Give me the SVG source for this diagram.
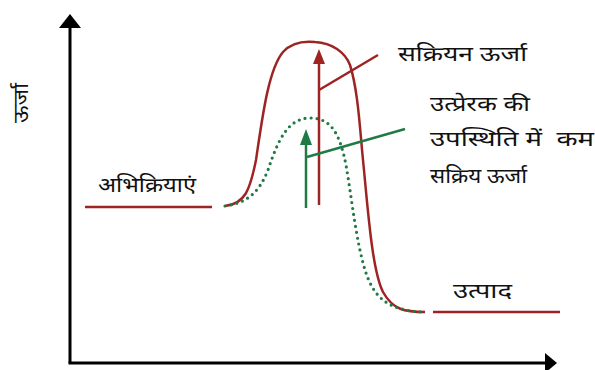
<svg xmlns="http://www.w3.org/2000/svg" width="595" height="370" viewBox="0 0 595 370">
<style>
text{font-family:"Noto Sans Devanagari","Noto Sans","Liberation Sans",sans-serif;font-size:20px;fill:#111}
.red{stroke:#9e2424;fill:none;stroke-width:2.5}
.grn{stroke:#1f7a45;fill:none;stroke-width:2.5}
.ax{stroke:#000;stroke-width:3;fill:none}
</style>
<g id="axes">
<path class="ax" d="M70,363 L70,28"/>
<path d="M59,28 L70,14 L81,28Z" fill="#000"/>
<path class="ax" d="M68.5,363 L545,363"/>
<path d="M545,353 L557,363 L545,373Z" fill="#000"/>
<text x="0" y="0" transform="translate(28,103) rotate(-90)" text-anchor="middle" textLength="40" lengthAdjust="spacingAndGlyphs">ऊर्जा</text>
</g>
<g id="reactants">
<path class="red" d="M85,207 L212,207"/>
<text x="98" y="192" textLength="98" lengthAdjust="spacingAndGlyphs">अभिक्रियाएं</text>
</g>
<g id="products">
<path class="red" d="M433,312 L560,312"/>
<text x="453" y="298" textLength="59" lengthAdjust="spacingAndGlyphs">उत्पाद</text>
</g>
<g id="curve-uncatalysed">
<path class="red" d="M225,206 C245,204 250,190 256,160 C262,120 268,70 283,52 C292,42 305,41 315,42 C332,43 345,52 350,65 C358,90 360,130 363,160 C368,210 372,270 383,292 C393,310 405,312 425,312"/>
</g>
<g id="curve-catalysed">
<path d="M225,206 C245,203 258,195 268,170 C278,140 288,118 310,118 C332,118 340,135 346,165 C352,200 356,240 365,270 C373,295 385,310 422,312" fill="none" stroke="#1f7a45" stroke-width="3.2" stroke-linecap="round" stroke-dasharray="0 6"/>
</g>
<g id="activation-energy">
<text x="398" y="61" textLength="129" lengthAdjust="spacingAndGlyphs">सक्रियन ऊर्जा</text>
</g>
<g id="catalysed-energy">
<text x="430" y="111" textLength="100" lengthAdjust="spacingAndGlyphs">उत्प्रेरक की</text>
<text x="430" y="146" xml:space="preserve" textLength="164" lengthAdjust="spacingAndGlyphs">उपस्थिति में  कम</text>
<text x="430" y="183" textLength="97" lengthAdjust="spacingAndGlyphs">सक्रिय ऊर्जा</text>
</g>
<g id="connectors">
<path class="red" d="M319,205 L319,64"/>
<path d="M313,64 L319,49 L325,64Z" fill="#9e2424"/>
<path class="red" d="M319,90 L378,55"/>
<path class="grn" d="M306,208 L306,145"/>
<path d="M300,145 L306,129 L312,145Z" fill="#1f7a45"/>
<path class="grn" d="M307,157 L405,129"/>
</g>
</svg>
